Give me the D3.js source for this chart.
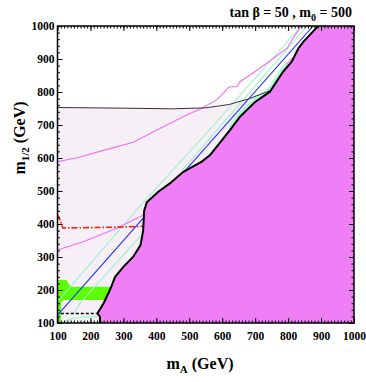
<!DOCTYPE html>
<html>
<head>
<meta charset="utf-8">
<script src="https://d3js.org/d3.v7.min.js"></script>
<style>
  body { margin: 0; background: #fff; }
</style>
</head>
<body>
<div id="chart"></div>
<script>
// tick values
var xTicks = d3.range(100, 1001, 100);
var yTicks = d3.range(100, 1001, 100);
var xMinor = d3.range(100, 1001, 10);
var yMinor = d3.range(100, 1001, 20);

// curves, [mA, m1/2] in GeV
var boundary = [[229,100],[229,119],[221,129],[240,160],[259,200],[275,240],[300,270],[330,301],[352,336],[360,380],[363,440],[371,466],[406,498],[441,523],[482,558],[538,589],[563,609],[583,634],[624,685],[654,725],[700,770],[745,801],[785,862],[811,892],[831,932],[846,952],[866,973],[891,1000]];
var blackLine = [[100,753],[200,752],[300,751],[450,749],[550,752],[620,762],[680,779],[735,800]];
var blackDash = [[735,800],[760,812]];
var dashedLine = [[110,129],[218,129]];
var redLine = [[100,428],[108,412],[116,388],[200,389],[300,391],[362,393]];
var magentaUpper = [[100,589],[160,601],[229,620],[330,648],[421,695],[492,730],[538,751],[583,776],[603,796],[618,813],[624,816],[644,816],[654,831],[700,862],[735,887],[796,932],[836,995],[840,1000]];
var magentaLower = [[100,321],[178,346],[280,387],[362,428]];
var magentaShort = [[795,884],[812,903]];
var blueLine = [[100,124],[876,1000]];
var greenLeft = [[100,165],[351,455],[563,687],[840,1000]];
var greenLeft2 = [[476,560],[858,1000]];
var greenRight = [[150,129],[168,160],[360,372],[500,530],[620,682]];
var greenBottom = [[113,100],[125,107],[145,114],[180,118],[220,120]];
var greenStrip = [[625,688],[654,728],[700,773],[745,805],[785,866],[800,884]];
var brightGreen = [[100,100],[100,230],[127,230],[140,210],[272,210],[262,170],[120,170],[111,163],[110,104],[106,100]];

var W = 366, H = 382;
var FONT = '"Liberation Serif", "Times New Roman", serif';
var x = d3.scaleLinear().domain([100, 1000]).range([57.5, 354]);
var y = d3.scaleLinear().domain([100, 1000]).range([323, 26]);

var svg = d3.select('#chart').append('svg')
  .attr('width', W)
  .attr('height', H);

svg.append('clipPath').attr('id', 'clip')
  .append('rect')
  .attr('x', x(100)).attr('y', y(1000))
  .attr('width', x(1000) - x(100)).attr('height', y(100) - y(1000));

var plot = svg.append('g').attr('clip-path', 'url(#clip)');
var line = d3.line().x(function(d) { return x(d[0]); }).y(function(d) { return y(d[1]); });

// pale excluded region below the black line
var lav = [[100,100]].concat(blackLine).concat([[1000,800],[1000,100]]);
plot.append('path').attr('d', line(lav) + 'Z').attr('fill', '#f6eff6');
plot.append('rect')
  .attr('x', x(100)).attr('y', y(129))
  .attr('width', x(229) - x(100)).attr('height', y(100) - y(129))
  .attr('fill', '#f3f3f3');
plot.append('path').attr('d', line(brightGreen) + 'Z').attr('fill', '#5cff00');

function draw(pts, color, w, dash) {
  var p = plot.append('path')
    .attr('d', line(pts))
    .attr('fill', 'none')
    .attr('stroke', color)
    .attr('stroke-width', w);
  if (dash) p.attr('stroke-dasharray', dash);
  return p;
}

draw(greenStrip, '#b4f5d2', 6);
draw(greenLeft, '#a0f0c8', 1.1);
draw(greenLeft2, '#a0f0c8', 1.1);
draw(greenRight, '#a0f0c8', 1.1);
draw(greenBottom, '#a0f0c8', 1.1);
draw(blueLine, '#1f2cff', 1.1);
draw(magentaUpper, '#f46cf4', 1.1);
draw(magentaLower, '#f46cf4', 1.1);
draw(magentaShort, '#f46cf4', 1.1);
draw(redLine, '#ff1a1a', 1.6, '6,2,1.5,2');
draw(blackLine, '#333', 1);
draw(blackDash, '#333', 1, '3,2');
draw(dashedLine, '#000', 1.6, '3,2');

// charged LSP region
var pink = boundary.concat([[1000,1000],[1000,100]]);
plot.append('path').attr('d', line(pink) + 'Z').attr('fill', '#ef7ef7');
draw(boundary, '#000', 2);

// frame
svg.append('rect')
  .attr('x', x(100)).attr('y', y(1000))
  .attr('width', x(1000) - x(100)).attr('height', y(100) - y(1000))
  .attr('fill', 'none').attr('stroke', '#000').attr('stroke-width', 1.5);

function ticks(axis, tx, ty) {
  var g = svg.append('g').attr('transform', 'translate(' + tx + ',' + ty + ')').call(axis);
  g.select('.domain').remove();
  g.attr('font-family', null);
  g.selectAll('line').attr('stroke', '#000').attr('stroke-width', 1);
  return g;
}

var fmt = d3.format('d');
ticks(d3.axisBottom(x).tickValues(xTicks).tickSize(-5).tickPadding(9).tickFormat(fmt), 0, y(100));
ticks(d3.axisBottom(x).tickValues(xMinor).tickSize(-2.5).tickFormat(''), 0, y(100));
ticks(d3.axisTop(x).tickValues(xTicks).tickSize(-5).tickFormat(''), 0, y(1000));
ticks(d3.axisTop(x).tickValues(xMinor).tickSize(-2.5).tickFormat(''), 0, y(1000));
ticks(d3.axisLeft(y).tickValues(yTicks).tickSize(-5).tickPadding(3).tickFormat(fmt), x(100), 0);
ticks(d3.axisLeft(y).tickValues(yMinor).tickSize(-2.5).tickFormat(''), x(100), 0);
ticks(d3.axisRight(y).tickValues(yTicks).tickSize(-5).tickFormat(''), x(1000), 0);
ticks(d3.axisRight(y).tickValues(yMinor).tickSize(-2.5).tickFormat(''), x(1000), 0);

svg.selectAll('.tick text')
  .attr('font-family', FONT)
  .attr('font-weight', 'bold')
  .attr('font-size', 11.5)
  .attr('fill', '#000');

// titles
function label(sel) {
  return sel.attr('font-family', FONT).attr('font-weight', 'bold').attr('fill', '#000');
}
var t = label(svg.append('text')).attr('x', 352).attr('y', 17).attr('text-anchor', 'end').attr('font-size', 14);
t.append('tspan').text('tan \u03b2 = 50 , m');
t.append('tspan').attr('dy', 4).attr('font-size', 10).text('0');
t.append('tspan').attr('dy', -4).text(' = 500');

var xt = label(svg.append('text')).attr('x', 200).attr('y', 369).attr('text-anchor', 'middle').attr('font-size', 16);
xt.append('tspan').text('m');
xt.append('tspan').attr('dy', 4).attr('font-size', 11).text('A');
xt.append('tspan').attr('dy', -4).text(' (GeV)');

var yt = label(svg.append('text')).attr('transform', 'translate(25,138) rotate(-90)').attr('text-anchor', 'middle').attr('font-size', 16);
yt.append('tspan').text('m');
yt.append('tspan').attr('dy', 4).attr('font-size', 11).text('1/2');
yt.append('tspan').attr('dy', -4).text(' (GeV)');
</script>
</body>
</html>
